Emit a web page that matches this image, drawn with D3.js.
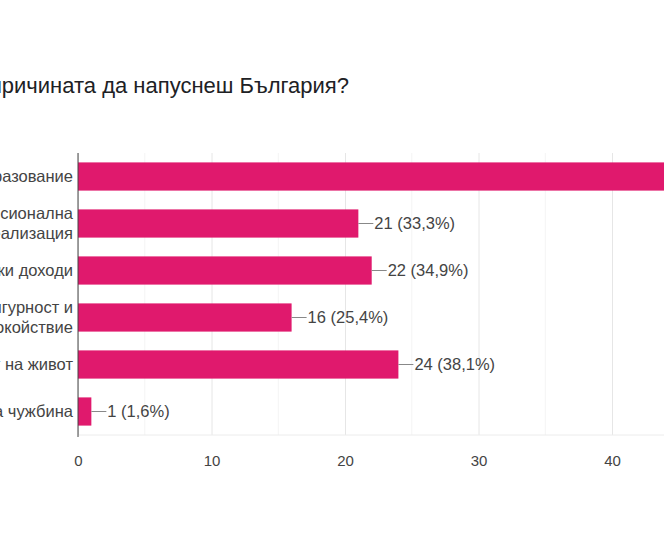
<!DOCTYPE html>
<html>
<head>
<meta charset="utf-8">
<script src="https://cdn.jsdelivr.net/npm/d3@7"></script>
<style>
  body { margin: 0; background: #fff; overflow: hidden; }
  svg { display: block; font-family: "Liberation Sans", Arial, sans-serif; }
</style>
</head>
<body>
<svg width="664" height="550"></svg>
<script>
const svg = d3.select('svg');

const title = 'Коя е причината да напуснеш България?';
const categories = [
    ['Образование'],
    ['Професионална', 'реализация'],
    ['По-високи доходи'],
    ['Сигурност и', 'спокойствие'],
    ['Стандарт на живот'],
    ['Семейство на чужбина']
];
const counts = [45, 21, 22, 16, 24, 1];
const percents = ['71,4%', '33,3%', '34,9%', '25,4%', '38,1%', '1,6%'];
const xTicks = [0, 10, 20, 30, 40, 50];

const margin = {top: 153, left: 78};
const innerHeight = 282;
const pxPerUnit = 13.35;

const xScale = d3.scaleLinear()
    .domain([0, 50])
    .range([0, 50 * pxPerUnit]);

const yScale = d3.scaleBand()
    .domain(d3.range(counts.length))
    .range([0, innerHeight])
    .paddingInner(0.4)
    .paddingOuter(0.2);

svg.append('text')
    .attr('x', 349)
    .attr('y', 93)
    .attr('text-anchor', 'end')
    .attr('fill', '#202124')
    .style('font-size', '22px')
    .text(title);

const g = svg.append('g')
    .attr('transform', `translate(${margin.left},${margin.top})`);

// minor grid
g.selectAll('.minor').data(d3.range(5, 50, 10))
    .enter().append('line')
    .attr('x1', d => xScale(d)).attr('x2', d => xScale(d))
    .attr('y1', 0).attr('y2', innerHeight)
    .attr('stroke', '#f4f4f4');

// major grid + tick labels
const xAxis = d3.axisBottom(xScale)
    .tickValues(xTicks)
    .tickSize(-innerHeight)
    .tickPadding(20);

const xAxisG = g.append('g')
    .attr('transform', `translate(0,${innerHeight})`)
    .call(xAxis);
xAxisG.select('.domain').remove();
xAxisG.selectAll('line').attr('stroke', '#e6e6e6');
xAxisG.selectAll('text')
    .attr('fill', '#444')
    .style('font-size', '15px');

g.append('line')
    .attr('x1', 0).attr('x2', 664)
    .attr('y1', innerHeight).attr('y2', innerHeight)
    .attr('stroke', '#ececec');

g.selectAll('.bar').data(counts)
    .enter().append('rect')
    .attr('x', 0)
    .attr('y', (d, i) => yScale(i))
    .attr('width', d => xScale(d))
    .attr('height', yScale.bandwidth())
    .attr('fill', '#e0196d');

// value labels
counts.forEach((d, i) => {
    const x = xScale(d);
    const y = yScale(i) + yScale.bandwidth() / 2;
    g.append('line')
        .attr('x1', x).attr('x2', x + 15)
        .attr('y1', y).attr('y2', y)
        .attr('stroke', '#888');
    g.append('text')
        .attr('x', x + 16)
        .attr('y', y)
        .attr('dy', '0.35em')
        .attr('fill', '#444')
        .style('font-size', '16.5px')
        .text(`${d} (${percents[i]})`);
});

// category labels
categories.forEach((lines, i) => {
    const y = yScale(i) + yScale.bandwidth() / 2;
    const t = g.append('text')
        .attr('text-anchor', 'end')
        .attr('fill', '#444')
        .style('font-size', '16.5px');
    lines.forEach((line, j) => {
        t.append('tspan')
            .attr('x', -5)
            .attr('y', y + (j - (lines.length - 1) / 2) * 20)
            .attr('dy', '0.35em')
            .text(line);
    });
});

g.append('line')
    .attr('x1', 0).attr('x2', 0)
    .attr('y1', 0).attr('y2', innerHeight + 2)
    .attr('stroke', '#444');
</script>
</body>
</html>
